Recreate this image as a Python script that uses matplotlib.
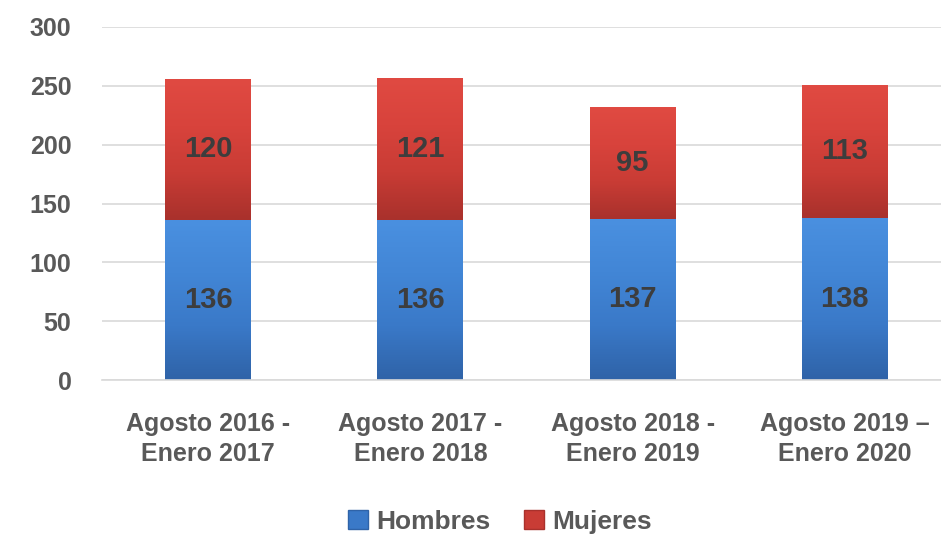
import numpy as np
import matplotlib.pyplot as plt
from matplotlib.colors import LinearSegmentedColormap
from matplotlib.patches import Patch

plt.rcParams["font.family"] = ["Liberation Sans", "DejaVu Sans"]
plt.rcParams["font.weight"] = "bold"

periodos = ["Agosto 2016 -\nEnero 2017", "Agosto 2017 -\nEnero 2018",
            "Agosto 2018 -\nEnero 2019", "Agosto 2019 –\nEnero 2020"]
hombres = [136, 136, 137, 138]
mujeres = [120, 121, 95, 113]

gris = "#595959"
etiqueta = "#3d3d3d"
# degradado de abajo hacia arriba
azul = ["#2f63a8", "#3a79c8", "#4286d6", "#4a90e0"]
rojo = ["#a9312c", "#c93c35", "#d8433c", "#e04a42"]


def barra_degradado(ax, barras, colores):
    cmap = LinearSegmentedColormap.from_list("g", colores)
    grad = np.linspace(0, 1, 64).reshape(-1, 1)
    for b in barras:
        x0, y0 = b.get_x(), b.get_y()
        w, h = b.get_width(), b.get_height()
        im = ax.imshow(grad, cmap=cmap, aspect="auto", origin="lower",
                       extent=(x0, x0 + w, y0, y0 + h), zorder=b.get_zorder() + 0.1)
        im.set_clip_path(b)


fig = plt.figure(figsize=(9.41, 5.37), dpi=100)
ax = fig.add_axes([102 / 941, 157 / 537, 849 / 941, 353 / 537])

x = np.arange(len(periodos))
ancho = 0.405
b1 = ax.bar(x, hombres, ancho, color="#3a79c8", zorder=2)
b2 = ax.bar(x, mujeres, ancho, bottom=hombres, color="#c93c35", zorder=2)
barra_degradado(ax, b1, azul)
barra_degradado(ax, b2, rojo)

for i in range(len(periodos)):
    ax.text(x[i], hombres[i] / 2, str(hombres[i]), ha="center", va="center",
            fontsize=21, fontweight="bold", color=etiqueta, zorder=5)
    ax.text(x[i], hombres[i] + mujeres[i] / 2, str(mujeres[i]), ha="center", va="center",
            fontsize=21, fontweight="bold", color=etiqueta, zorder=5)

ax.set_xlim(-0.5, 3.5)
ax.set_ylim(0, 300)
ax.set_yticks(range(0, 301, 50))
ax.yaxis.grid(True, color="#d9d9d9", linewidth=1.2, zorder=0)
ax.set_axisbelow(True)
for s in ["top", "right", "left"]:
    ax.spines[s].set_visible(False)
ax.spines["bottom"].set_color("#d9d9d9")
ax.spines["bottom"].set_linewidth(1.2)
ax.tick_params(axis="both", length=0, labelsize=18, labelcolor=gris)
ax.tick_params(axis="y", pad=22)
ax.tick_params(axis="x", pad=23)
ax.set_xticks(x)
ax.set_xticklabels(periodos, fontweight="bold", linespacing=1.3)
for t in ax.get_yticklabels():
    t.set_fontweight("bold")

handles = [Patch(facecolor="#3a79c8", edgecolor="#2f63a8", label="Hombres"),
           Patch(facecolor="#c93c35", edgecolor="#a9312c", label="Mujeres")]
fig.legend(handles=handles, loc="center", bbox_to_anchor=(500 / 941, 1 - 522 / 537), ncol=2,
           frameon=False, handlelength=0.75, handleheight=0.75,
           handletextpad=0.3, columnspacing=1.3, labelcolor=gris,
           prop={"weight": "bold", "size": 19})

fig.savefig("out.png", dpi=100)
